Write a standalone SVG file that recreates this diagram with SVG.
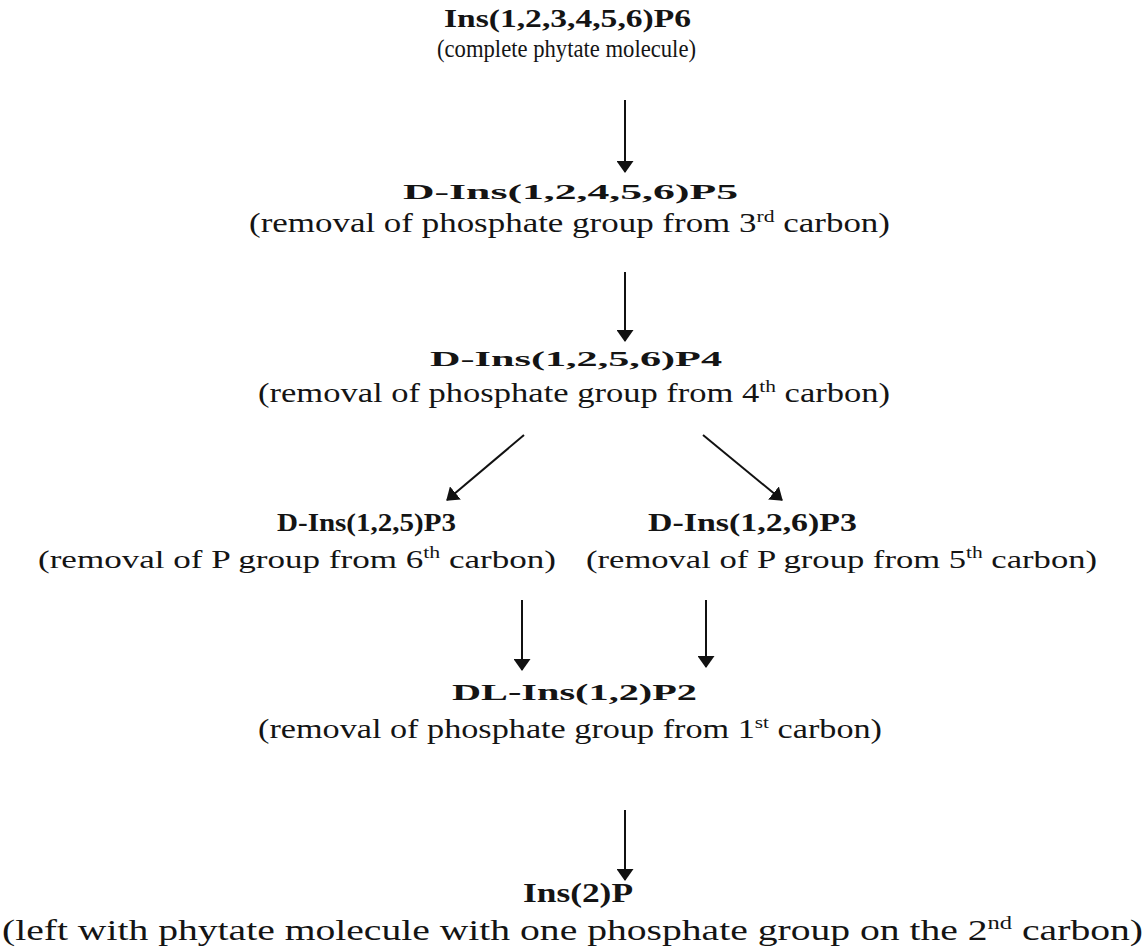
<svg xmlns="http://www.w3.org/2000/svg" width="1148" height="949" viewBox="0 0 1148 949">
<style>
.t{font-family:"Liberation Serif","Times New Roman",serif;fill:#141414}
.b{font-weight:bold}
.s{font-size:0.62em}
.c{stroke:#111;stroke-width:2;fill:none}
</style>
<defs>
<marker id="ah" viewBox="0 0 12 17" refX="11" refY="8.5" markerWidth="12" markerHeight="17" markerUnits="userSpaceOnUse" orient="auto">
<path d="M0,0 L12,8.5 L0,17 z" fill="#111"/>
</marker>
</defs>
<rect width="1148" height="949" fill="#fff"/>
<g id="n1">
<text class="t b" x="444" y="27" font-size="25" textLength="247" lengthAdjust="spacingAndGlyphs">Ins(1,2,3,4,5,6)P6</text>
<text class="t" x="437" y="57" font-size="26" textLength="259" lengthAdjust="spacingAndGlyphs">(complete phytate molecule)</text>
</g>
<g id="n2">
<text class="t b" x="403" y="199" font-size="22" textLength="335" lengthAdjust="spacingAndGlyphs">D-Ins(1,2,4,5,6)P5</text>
<text class="t" x="249" y="232" font-size="27" textLength="641" lengthAdjust="spacingAndGlyphs">(removal of phosphate group from 3<tspan class="s" dy="-10">rd</tspan><tspan dy="10"> carbon)</tspan></text>
</g>
<g id="n3">
<text class="t b" x="430" y="366" font-size="22" textLength="292" lengthAdjust="spacingAndGlyphs">D-Ins(1,2,5,6)P4</text>
<text class="t" x="258" y="402" font-size="27" textLength="632" lengthAdjust="spacingAndGlyphs">(removal of phosphate group from 4<tspan class="s" dy="-10">th</tspan><tspan dy="10"> carbon)</tspan></text>
</g>
<g id="n4">
<text class="t b" x="277" y="531" font-size="25" textLength="179" lengthAdjust="spacingAndGlyphs">D-Ins(1,2,5)P3</text>
<text class="t" x="38" y="568" font-size="26" textLength="518" lengthAdjust="spacingAndGlyphs">(removal of P group from 6<tspan class="s" dy="-10">th</tspan><tspan dy="10"> carbon)</tspan></text>
</g>
<g id="n5">
<text class="t b" x="648" y="531" font-size="25" textLength="209" lengthAdjust="spacingAndGlyphs">D-Ins(1,2,6)P3</text>
<text class="t" x="586" y="568" font-size="26" textLength="511" lengthAdjust="spacingAndGlyphs">(removal of P group from 5<tspan class="s" dy="-10">th</tspan><tspan dy="10"> carbon)</tspan></text>
</g>
<g id="n6">
<text class="t b" x="452" y="700" font-size="23" textLength="245" lengthAdjust="spacingAndGlyphs">DL-Ins(1,2)P2</text>
<text class="t" x="258" y="738" font-size="27" textLength="624" lengthAdjust="spacingAndGlyphs">(removal of phosphate group from 1<tspan class="s" dy="-10">st</tspan><tspan dy="10"> carbon)</tspan></text>
</g>
<g id="n7">
<text class="t b" x="523" y="902" font-size="27" textLength="110" lengthAdjust="spacingAndGlyphs">Ins(2)P</text>
<text class="t" x="2" y="940" font-size="30" textLength="1141" lengthAdjust="spacingAndGlyphs">(left with phytate molecule with one phosphate group on the 2<tspan class="s" dy="-11">nd</tspan><tspan dy="11"> carbon)</tspan></text>
</g>
<g id="connectors">
<line class="c" x1="625" y1="100" x2="625" y2="172" marker-end="url(#ah)"/>
<line class="c" x1="625" y1="272" x2="625" y2="341" marker-end="url(#ah)"/>
<line class="c" x1="524" y1="435" x2="447" y2="500" marker-end="url(#ah)"/>
<line class="c" x1="703" y1="435" x2="782" y2="500" marker-end="url(#ah)"/>
<line class="c" x1="522" y1="600" x2="522" y2="670" marker-end="url(#ah)"/>
<line class="c" x1="706" y1="600" x2="706" y2="667" marker-end="url(#ah)"/>
<line class="c" x1="625" y1="810" x2="625" y2="880" marker-end="url(#ah)"/>
</g>
</svg>
